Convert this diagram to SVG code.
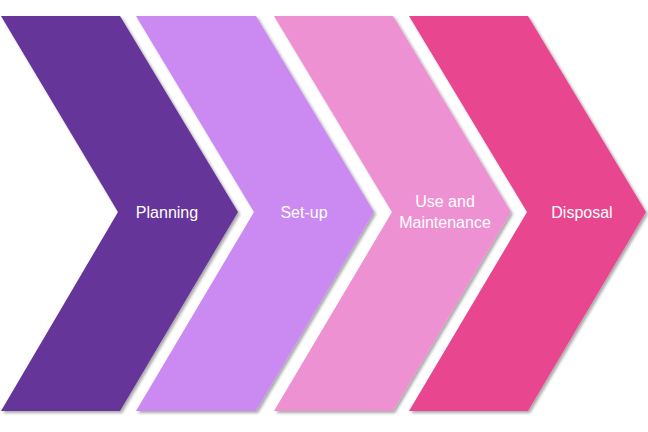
<svg xmlns="http://www.w3.org/2000/svg" width="648" height="432" viewBox="0 0 648 432">
<defs>
<filter id="sh" x="-5%" y="-5%" width="115%" height="115%">
<feGaussianBlur in="SourceAlpha" stdDeviation="1.5"/>
<feOffset dx="1.5" dy="1.5" result="b"/>
<feComponentTransfer><feFuncA type="linear" slope="0.35"/></feComponentTransfer>
<feMerge><feMergeNode/><feMergeNode in="SourceGraphic"/></feMerge>
</filter>
<style>
.lbl{font-family:"Liberation Sans",Arial,sans-serif;font-size:16px;fill:#ffffff;text-anchor:middle;dominant-baseline:central}
.chev{filter:url(#sh)}
</style>
</defs>
<rect width="648" height="432" fill="#ffffff"/>
<g id="planning">
<polygon class="chev" points="1,16 120,16 238,212 120,411 1,411 118,212" fill="#65349A"/>
<text class="lbl" x="167" y="212">Planning</text>
</g>
<g id="setup">
<polygon class="chev" points="136,16 256,16 374,212 256,411 136,411 254,212" fill="#CA8AF2"/>
<text class="lbl" x="304" y="212">Set-up</text>
</g>
<g id="use">
<polygon class="chev" points="274,16 393,16 511,212 393,411 274,411 392,212" fill="#EE91D3"/>
<text class="lbl" x="445" y="201">Use and</text>
<text class="lbl" x="445" y="222">Maintenance</text>
</g>
<g id="disposal">
<polygon class="chev" points="409,16 528,16 646,212 528,411 409,411 527,212" fill="#E8478F"/>
<text class="lbl" x="582" y="212">Disposal</text>
</g>
<g id="connectors"/>
</svg>
